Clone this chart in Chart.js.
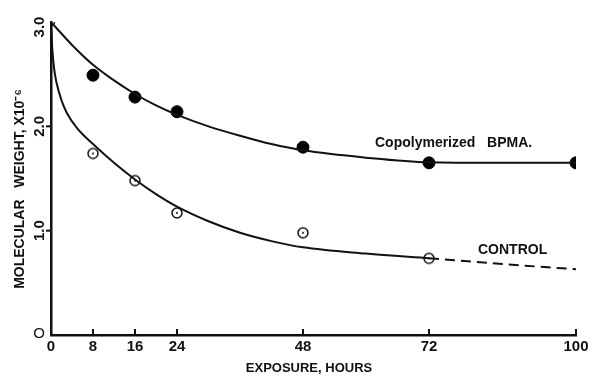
<!DOCTYPE html>
<html lang="en">
<head>
  <meta charset="UTF-8">
  <title>Molecular weight vs exposure</title>
  <script src="https://cdn.jsdelivr.net/npm/chart.js"></script>
  <style>
    body { margin: 0; background: #fff; }
    #wrap { width: 592px; height: 377px; }
  </style>
</head>
<body>
  <div id="wrap"><canvas id="mwChart" width="592" height="377"></canvas></div>

  <script>
    // measured points
    const bpmaHours = [8, 16, 24, 48, 72, 100];
    const bpmaValues = [2.49, 2.28, 2.14, 1.80, 1.65, 1.65];
    const controlHours = [8, 16, 24, 48, 72];
    const controlValues = [1.74, 1.48, 1.17, 0.98, 0.735];

    // hand-drawn fitted curves
    const bpmaCurveHours = [0, 4, 8, 12, 16, 20, 24, 30, 36, 42, 48, 60, 72, 84, 100];
    const bpmaCurve = [3.0, 2.78, 2.59, 2.44, 2.31, 2.20, 2.11, 2.00, 1.91, 1.83, 1.77, 1.70, 1.655, 1.65, 1.65];
    const controlCurveHours = [0, 0.25, 0.6, 1, 2, 3, 5, 8, 12, 16, 20, 24, 30, 36, 42, 48, 60, 72];
    const controlCurve = [3.0, 2.74, 2.55, 2.43, 2.25, 2.13, 1.98, 1.83, 1.65, 1.49, 1.35, 1.23, 1.09, 0.98, 0.90, 0.84, 0.78, 0.735];
    const controlDashHours = [72, 86, 100];
    const controlDash = [0.735, 0.68, 0.63];

    const xTicks = [0, 8, 16, 24, 48, 72, 100];
    const xTickLabels = ["0", "8", "16", "24", "48", "72", "100"];
    const yTicks = [0, 1, 2, 3];
    const yTickLabels = ["O", "1.0", "2.0", "3.0"];

    const pts = (xs, ys) => xs.map((x, i) => ({ x: x, y: ys[i] }));

    // open circle with a dot in the middle
    function openDot(r) {
      const c = document.createElement("canvas");
      c.width = c.height = r * 2 + 4;
      const g = c.getContext("2d");
      g.strokeStyle = "#111";
      g.lineWidth = 1.5;
      g.fillStyle = "#fff";
      g.beginPath();
      g.arc(r + 2, r + 2, r, 0, Math.PI * 2);
      g.fill();
      g.stroke();
      g.fillStyle = "#111";
      g.beginPath();
      g.arc(r + 2, r + 2, 1, 0, Math.PI * 2);
      g.fill();
      return c;
    }

    const FONT = "'Liberation Sans', Arial, sans-serif";

    const labelsPlugin = {
      id: "labels",
      afterDraw(chart) {
        const ctx = chart.ctx;
        const xs = chart.scales.x, ys = chart.scales.y;
        const area = chart.chartArea;
        ctx.save();
        ctx.fillStyle = "#111";
        ctx.strokeStyle = "#111";
        ctx.lineWidth = 2;

        // x tick marks (pointing up) and labels
        ctx.font = "bold 15px " + FONT;
        ctx.textAlign = "center";
        ctx.textBaseline = "middle";
        xTicks.forEach((t, i) => {
          const px = xs.getPixelForValue(t);
          if (t > 0) {
            ctx.beginPath();
            ctx.moveTo(px, area.bottom);
            ctx.lineTo(px, area.bottom - 6);
            ctx.stroke();
          }
          ctx.fillText(xTickLabels[i], px, area.bottom + 12);
        });

        // y tick marks and rotated labels
        yTicks.forEach((t, i) => {
          const py = ys.getPixelForValue(t);
          if (t > 0 && t < 3) {
            ctx.beginPath();
            ctx.moveTo(area.left, py);
            ctx.lineTo(area.left - 5, py);
            ctx.stroke();
          }
          if (t === 0) {
            ctx.font = "15px " + FONT;
            ctx.textAlign = "right";
            ctx.textBaseline = "middle";
            ctx.fillText(yTickLabels[i], area.left - 6, py - 1);
            ctx.font = "bold 15px " + FONT;
          } else {
            ctx.save();
            ctx.translate(area.left - 11, py + (t === 3 ? 5 : 0));
            ctx.rotate(-Math.PI / 2);
            ctx.textAlign = "center";
            ctx.textBaseline = "middle";
            ctx.fillText(yTickLabels[i], 0, 0);
            ctx.restore();
          }
        });

        // axis titles
        ctx.font = "bold 13px " + FONT;
        ctx.textAlign = "center";
        ctx.textBaseline = "middle";
        ctx.fillText("EXPOSURE, HOURS", 309, 368);
        ctx.save();
        ctx.translate(20, 189);
        ctx.rotate(-Math.PI / 2);
        ctx.font = "bold 14px " + FONT;
        ctx.fillText("MOLECULAR   WEIGHT, X10\u207B\u2076", 0, 0);
        ctx.restore();

        // curve annotations
        ctx.font = "bold 14px " + FONT;
        ctx.textAlign = "left";
        ctx.fillText("Copolymerized   BPMA.", 375, ys.getPixelForValue(1.84));
        ctx.fillText("CONTROL", 478, ys.getPixelForValue(0.815));
        ctx.restore();
      }
    };

    new Chart(document.getElementById("mwChart"), {
      type: "scatter",
      data: {
        datasets: [
          {
            type: "line",
            data: pts(bpmaCurveHours, bpmaCurve),
            borderColor: "#111",
            borderWidth: 2,
            pointRadius: 0,
            cubicInterpolationMode: "monotone"
          },
          {
            type: "line",
            data: pts(controlCurveHours, controlCurve),
            borderColor: "#111",
            borderWidth: 2,
            pointRadius: 0,
            cubicInterpolationMode: "monotone"
          },
          {
            type: "line",
            data: pts(controlDashHours, controlDash),
            borderColor: "#111",
            borderWidth: 2,
            borderDash: [10, 6],
            pointRadius: 0,
            cubicInterpolationMode: "monotone"
          },
          {
            data: pts(bpmaHours, bpmaValues),
            pointRadius: 6,
            pointBackgroundColor: "#000",
            pointBorderColor: "#000",
            showLine: false
          },
          {
            data: pts(controlHours, controlValues),
            pointStyle: openDot(5),
            showLine: false
          },
          {
            data: [{ x: 0, y: 3.0 }],
            pointRadius: 3.5,
            pointBackgroundColor: "#fff",
            pointBorderColor: "#111",
            pointBorderWidth: 1.3,
            showLine: false
          }
        ]
      },
      options: {
        responsive: false,
        animation: false,
        layout: { padding: { left: 51, right: 16, top: 22, bottom: 42 } },
        plugins: { legend: { display: false }, tooltip: { enabled: false } },
        scales: {
          x: {
            type: "linear",
            min: 0,
            max: 100,
            ticks: { display: false },
            grid: { display: false, drawTicks: false },
            border: { color: "#111", width: 2.5 }
          },
          y: {
            min: 0,
            max: 3.0,
            ticks: { display: false },
            grid: { display: false, drawTicks: false },
            border: { color: "#111", width: 2.5 }
          }
        }
      },
      plugins: [labelsPlugin]
    });
  </script>
</body>
</html>
